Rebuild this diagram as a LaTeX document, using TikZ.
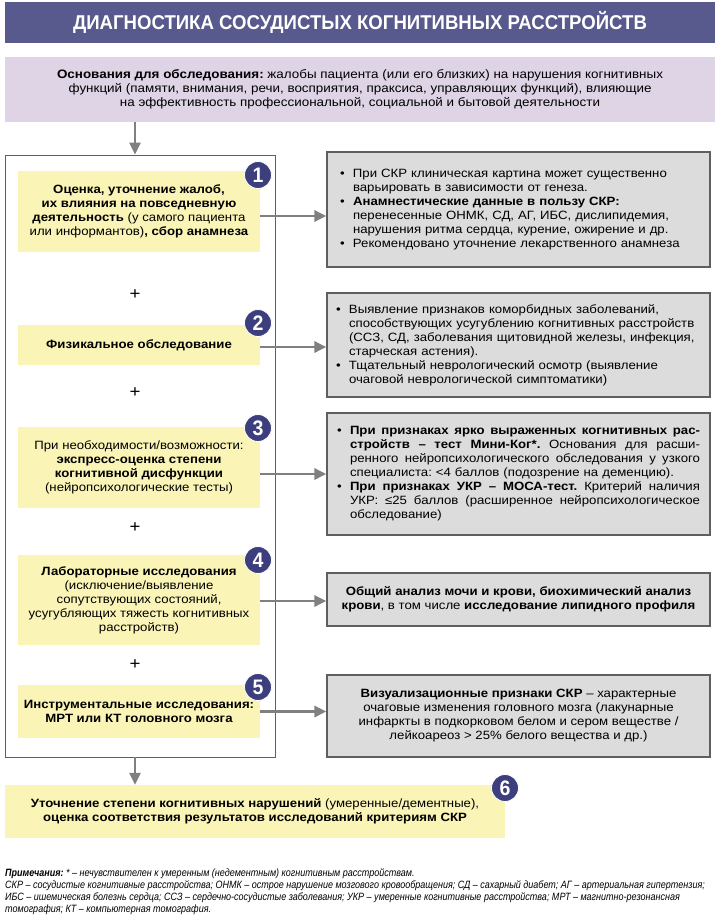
\documentclass[tikz,border=0pt]{standalone}
\usepackage{fontspec}
\setmainfont[FakeStretch=1.1]{Liberation Sans}
\newfontfamily\titlefont[FakeStretch=0.93]{Liberation Sans}
\newfontfamily\notefont[FakeStretch=0.85]{Liberation Sans}
\usetikzlibrary{arrows.meta}
\definecolor{hdr}{RGB}{88,89,140}
\definecolor{lav}{RGB}{222,212,230}
\definecolor{yel}{RGB}{250,244,182}
\definecolor{gbox}{RGB}{220,220,220}
\definecolor{gline}{RGB}{95,95,95}
\definecolor{arrcol}{RGB}{128,128,128}
\definecolor{navy}{RGB}{60,62,125}
\frenchspacing
\newcommand\bul{\makebox[13pt][l]{\textbullet}}
\newcommand\ind{\hspace*{13pt}}
\newcommand\jl[1]{{\spaceskip=0pt\xspaceskip=0pt\makebox[350pt][s]{#1}}}
\tikzset{
  hdrbox/.style={fill=hdr, minimum width=710pt, minimum height=41pt, inner sep=0pt, text=white, font=\titlefont\bfseries\fontsize{20}{22}\selectfont},
  lavbox/.style={fill=lav, minimum width=710pt, minimum height=65pt, inner sep=0pt, align=center, font=\fontsize{12.2}{14}\selectfont},
  framebox/.style={draw=gline, line width=0.8pt, fill=white, minimum width=270pt, minimum height=602pt, inner sep=0pt},
  stepbox/.style={fill=yel, minimum width=242pt, inner sep=0pt, align=center, font=\fontsize{12}{14}\selectfont},
  infobox/.style={draw=gline, fill=gbox, line width=1.2pt, minimum width=383pt, inner sep=0pt},
  bulbox/.style={infobox, align=left, text width=357pt, font=\fontsize{12}{14}\selectfont},
  cenbox/.style={infobox, align=center, font=\fontsize{12}{14}\selectfont},
  numcirc/.style={circle, fill=navy, draw=white, line width=0.8pt, minimum size=27pt, inner sep=0pt, text=white, font=\titlefont\bfseries\fontsize{21}{21}\selectfont},
  plus/.style={font=\fontsize{17}{17}\selectfont, inner sep=0pt},
  arrow/.style={draw=arrcol, line width=2.8pt, -{Triangle[length=12pt,width=11pt]}},
}
\begin{document}
\begin{tikzpicture}[x=1pt,y=-1pt, font=\fontsize{12}{14}\selectfont]
\useasboundingbox (0,0) rectangle (720,920);
\coordinate (ax) at (135,0);
\node[hdrbox] (hdr) at (360,22.5) {ДИАГНОСТИКА СОСУДИСТЫХ КОГНИТИВНЫХ РАССТРОЙСТВ};
\node[lavbox] (top) at (360,89.5) {\textbf{Основания для обследования:} жалобы пациента (или его близких) на нарушения когнитивных\\ функций (памяти, внимания, речи, восприятия, праксиса, управляющих функций), влияющие\\ на эффективность профессиональной, социальной и бытовой деятельности};
\node[framebox] (frame) at (140,456) {};
% step 1
\node[stepbox, minimum height=81pt] (s1) at (139,211.5) {\textbf{Оценка, уточнение жалоб,}\\ \textbf{их влияния на повседневную}\\ \textbf{деятельность} (у самого пациента\\ или информантов)\textbf{, сбор анамнеза}};
\node[bulbox, minimum height=115pt] (r1) at (518.5,209.5) {\bul При СКР клиническая картина может существенно\\ \ind варьировать в зависимости от генеза.\\ \bul\textbf{Анамнестические данные в пользу СКР:}\\ \ind перенесенные ОНМК, СД, АГ, ИБС, дислипидемия,\\ \ind нарушения ритма сердца, курение, ожирение и др.\\ \bul Рекомендовано уточнение лекарственного анамнеза};
\node[plus] (p1) at (135,295) {+};
% step 2
\node[stepbox, minimum height=40pt] (s2) at (139,345) {\textbf{Физикальное обследование}};
\node[bulbox, text width=365pt, minimum height=104pt] (r2) at (518.5,345) {\bul Выявление признаков коморбидных заболеваний,\\ \ind способствующих усугублению когнитивных расстройств\\ \ind (ССЗ, СД, заболевания щитовидной железы, инфекция,\\ \ind старческая астения).\\ \bul Тщательный неврологический осмотр (выявление\\ \ind очаговой неврологической симптоматики)};
\node[plus] (p2) at (135,393) {+};
% step 3
\node[stepbox, minimum height=81pt] (s3) at (139,467.5) {При необходимости/возможности:\\ \textbf{экспресс-оценка степени}\\ \textbf{когнитивной дисфункции}\\ (нейропсихологические тесты)};
\node[bulbox, text width=363pt, minimum height=122pt] (r3) at (518.5,474) {\bul\jl{\textbf{При признаках ярко выраженных когнитивных рас-}}\\ \ind\jl{\textbf{стройств – тест Мини-Ког*.} Основания для расши-}\\ \ind\jl{ренного нейропсихологического обследования у узкого}\\ \ind специалиста: <4 баллов (подозрение на деменцию).\\ \bul\jl{\textbf{При признаках УКР – МОСА-тест.} Критерий наличия}\\ \ind\jl{УКР: ≤25 баллов (расширенное нейропсихологическое}\\ \ind обследование)};
\node[plus] (p3) at (135,528) {+};
% step 4
\node[stepbox, minimum height=90pt] (s4) at (139,600) {\textbf{Лабораторные исследования}\\ (исключение/выявление\\ сопутствующих состояний,\\ усугубляющих тяжесть когнитивных\\ расстройств)};
\node[cenbox, minimum height=53pt] (r4) at (518.5,599.5) {\textbf{Общий анализ мочи и крови, биохимический анализ}\\ \textbf{крови}, в том числе \textbf{исследование липидного профиля}};
\node[plus] (p4) at (135,665) {+};
% step 5
\node[stepbox, minimum height=53pt] (s5) at (139,711.5) {\textbf{Инструментальные исследования:}\\ \textbf{МРТ или КТ головного мозга}};
\node[cenbox, minimum height=82pt] (r5) at (518.5,716) {\textbf{Визуализационные признаки СКР} – характерные\\ очаговые изменения головного мозга (лакунарные\\ инфаркты в подкорковом белом и сером веществе /\\ лейкоареоз > 25\% белого вещества и др.)};
% step 6
\node[stepbox, minimum width=500pt, minimum height=53pt] (s6) at (255,811.5) {\textbf{Уточнение степени когнитивных нарушений} (умеренные/дементные),\\ \textbf{оценка соответствия результатов исследований критериям СКР}};
% circles
\node[numcirc] (c1) at (258,175) {1};
\node[numcirc] (c2) at (258,323) {2};
\node[numcirc] (c3) at (258,428) {3};
\node[numcirc] (c4) at (258,560) {4};
\node[numcirc] (c5) at (258,687) {5};
\node[numcirc] (c6) at (505,788) {6};
% arrows
\draw[arrow] (top.south -| ax) -- (frame.north -| ax);
\draw[arrow] ([yshift=-4.5pt]s1.east) -- ([yshift=-4.5pt]s1.east -| r1.west);
\draw[arrow] ([yshift=-2pt]s2.east) -- ([yshift=-2pt]s2.east -| r2.west);
\draw[arrow] ([yshift=-6.5pt]s3.east) -- ([yshift=-6.5pt]s3.east -| r3.west);
\draw[arrow] ([yshift=-1pt]s4.east) -- ([yshift=-1pt]s4.east -| r4.west);
\draw[arrow] (s5.east) -- (s5.east -| r5.west);
\draw[arrow] (frame.south -| ax) -- (s6.north -| ax);
% notes
\node[anchor=north west, align=left, inner sep=0pt, font=\notefont\itshape\fontsize{10.6}{12.3}\selectfont] (notes) at (5,868) {\textbf{Примечания:} * – нечувствителен к умеренным (недементным) когнитивным расстройствам.\\ СКР – сосудистые когнитивные расстройства; ОНМК – острое нарушение мозгового кровообращения; СД – сахарный диабет; АГ – артериальная гипертензия;\\ ИБС – ишемическая болезнь сердца; ССЗ – сердечно-сосудистые заболевания; УКР – умеренные когнитивные расстройства; МРТ – магнитно-резонансная\\ томография; КТ – компьютерная томография.};
\end{tikzpicture}
\end{document}
